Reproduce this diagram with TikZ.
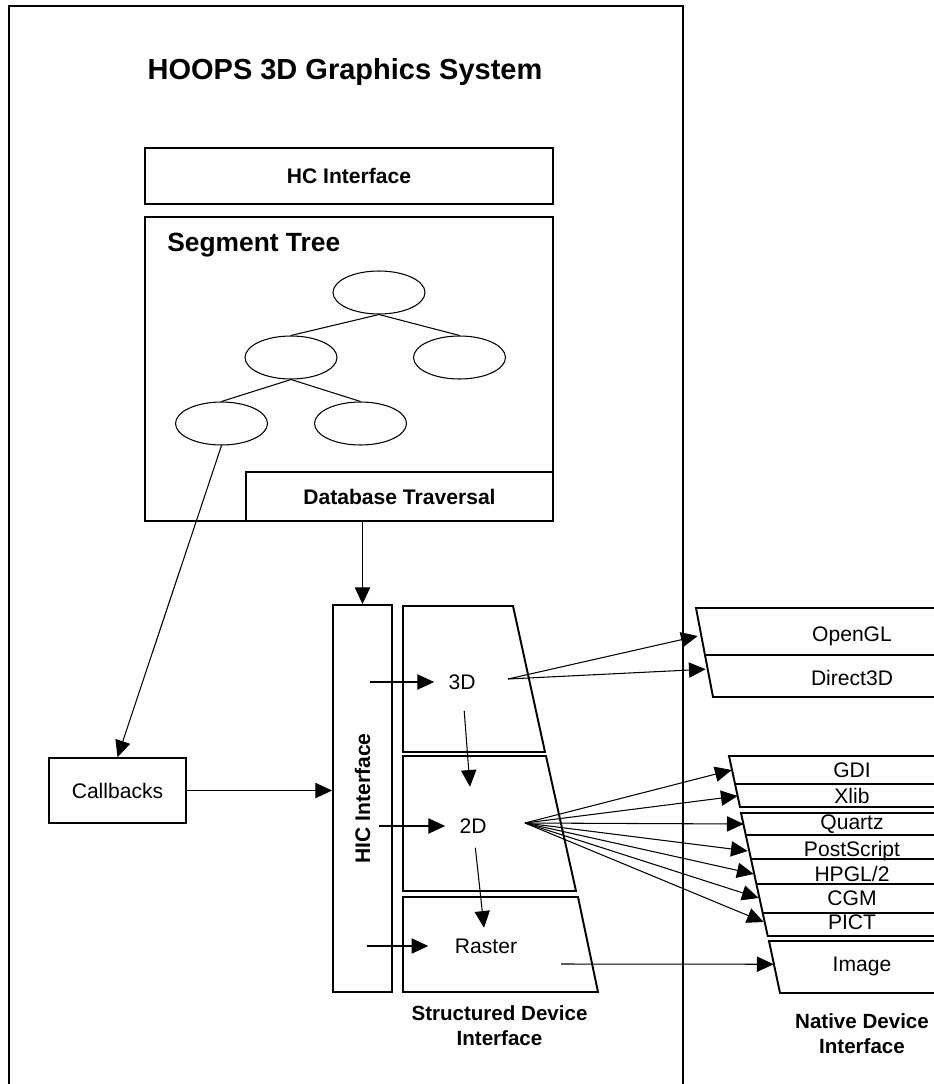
\documentclass[tikz,border=0pt]{standalone}
\usepackage{fontspec}
\setmainfont{Liberation Sans}
\usetikzlibrary{shapes,arrows.meta}
\tikzstyle{box} = [rectangle, draw=black, line width=0.7pt, text centered, inner sep=0pt]
\tikzstyle{oval} = [ellipse, draw=black, line width=0.6pt, minimum width=1.84cm, minimum height=0.86cm]
\tikzstyle{sdi} = [inner xsep=8pt, inner ysep=6pt, font=\fontsize{12}{14}\selectfont]
\tikzstyle{ndi} = [inner sep=0pt, font=\fontsize{12}{14}\selectfont]
\tikzstyle{bold} = [font=\fontsize{12}{14}\selectfont\bfseries]
\tikzstyle{arr} = [-{Triangle[length=9.5pt,width=8.7pt]}, line width=0.6pt]

\begin{document}
\begin{tikzpicture}[x=0.02cm, y=-0.02cm]
			\useasboundingbox (0,0) rectangle (933,1084);
			\draw[line width=1.1pt] (9,1100) -- (9,6) -- (683,6) -- (683,1100);
			\node[font=\fontsize{16.5}{20}\selectfont\bfseries](title) at (345,72){HOOPS 3D Graphics System};
			\node[box,bold,minimum width=8.16cm,minimum height=1.12cm](hc) at (349,176){HC Interface};
			\node[box,minimum width=8.16cm,minimum height=6.08cm](seg) at (349,369){};
			\node[anchor=base west,inner sep=0pt,font=\fontsize{15}{18}\selectfont\bfseries](segt) at (167,252){Segment Tree};
			\node[box,bold,fill=white,minimum width=6.14cm,minimum height=0.98cm](db) at (399.5,496.5){Database Traversal};
			
			\node[oval](n1) at (379,292.5){};
			\node[oval](n2) at (291,357.5){};
			\node[oval](n3) at (459.5,357.5){};
			\node[oval](n4) at (221.5,423.5){};
			\node[oval](n5) at (360.5,423.5){};
			\draw[line width=0.6pt] (n2.north)--(n1.south)--(n3.north);
			\draw[line width=0.6pt] (n4.north)--(n2.south)--(n5.north);
			
			\node[box,line width=1.1pt,minimum width=1.18cm,minimum height=7.74cm](hic) at (362.5,798.5){};
			\node[bold,rotate=90](hict) at (hic){HIC Interface};
			\node[box,line width=0.9pt,minimum width=2.74cm,minimum height=1.3cm,font=\fontsize{12}{14}\selectfont](cb) at (117.5,790.5){Callbacks};
			\draw[arr] (n4.south)--(cb.north);
			\draw[arr] (cb.east)--(cb.east -| hic.west);
			\draw[arr] (hic.north |- db.south)--(hic.north);
			
			\draw[line width=1.1pt] (403,606)--(513,606)--(545,752)--(403,752)--cycle;
			\draw[line width=1.1pt] (403,756)--(546,756)--(576,891)--(403,891)--cycle;
			\draw[line width=1.1pt] (403,897)--(578,897)--(598,992)--(403,992)--cycle;
			\node[sdi](l3d) at (462,682){3D};
			\node[sdi](l2d) at (473,826){2D};
			\node[sdi](lrs) at (486,946){Raster};
			\coordinate (h3d) at (370,682);
			\coordinate (h2d) at (379,826);
			\coordinate (hrs) at (367,946);
			\draw[arr] (h3d)--(l3d);
			\draw[arr] (h2d)--(l2d);
			\draw[arr,shorten >=7pt] (hrs)--(lrs);
			\draw[arr,shorten <=6pt,shorten >=12pt] (l3d)--(l2d);
			\draw[arr,shorten <=2pt] (l2d)--(lrs);
			\node[font=\fontsize{11.7}{14}\selectfont\bfseries,align=center](sdit) at (499.5,1025.5){Structured Device\\Interface};
			
			\draw[line width=1.1pt] (950,608)--(696,608)--(713,697)--(950,697);
			\draw[line width=0.9pt] (705,655)--(950,655);
			\draw[line width=1.1pt] (950,756)--(729,756)--(740,807)--(950,807);
			\draw[line width=0.9pt] (735,784)--(950,784);
			\draw[line width=1.1pt] (950,813)--(741,813)--(767.7,936)--(950,936);
			\draw[line width=0.9pt] (745.8,835)--(950,835);
			\draw[line width=0.9pt] (751,859)--(950,859);
			\draw[line width=0.9pt] (756.4,884)--(950,884);
			\draw[line width=0.9pt] (762.7,913)--(950,913);
			\draw[line width=1.1pt] (950,941)--(769,941)--(780,993)--(950,993);
			\node[ndi,minimum width=6.16cm](ogl) at (852,636){OpenGL};
			\node[ndi,minimum width=5.84cm](d3d) at (852,678){Direct3D};
			\node[ndi,minimum width=4.8cm](gdi) at (852,770){GDI};
			\node[ndi,minimum width=4.56cm](xlib) at (852,796){Xlib};
			\node[ndi,minimum width=4.32cm](qtz) at (852,824){Quartz};
			\node[ndi,minimum width=4.16cm](ps) at (852,851){PostScript};
			\node[ndi,minimum width=3.92cm](hpgl) at (852,874){HPGL/2};
			\node[ndi,minimum width=3.72cm](cgm) at (852,898){CGM};
			\node[ndi,minimum width=3.52cm](pict) at (852,922){PICT};
			\node[ndi,minimum width=3.52cm](img) at (862,966){Image};
			\node[font=\fontsize{11.7}{14}\selectfont\bfseries,align=center](ndit) at (862,1033.5){Native Device\\Interface};
			
			\coordinate (s3d) at (508,679);
			\coordinate (s2d) at (525,823);
			\coordinate (srs) at (561,964);
			\draw[arr] (s3d)--(ogl.west);
			\draw[arr] (s3d)--([yshift=5pt]d3d.west);
			\draw[arr] (s2d)--(gdi.west);
			\draw[arr] (s2d)--(xlib.west);
			\draw[arr] (s2d)--(qtz.west);
			\draw[arr] (s2d)--(ps.west);
			\draw[arr] (s2d)--(hpgl.west);
			\draw[arr] (s2d)--(cgm.west);
			\draw[arr] (s2d)--(pict.west);
			\draw[arr] (srs)--([yshift=1pt]img.west);
\end{tikzpicture}
\end{document}
